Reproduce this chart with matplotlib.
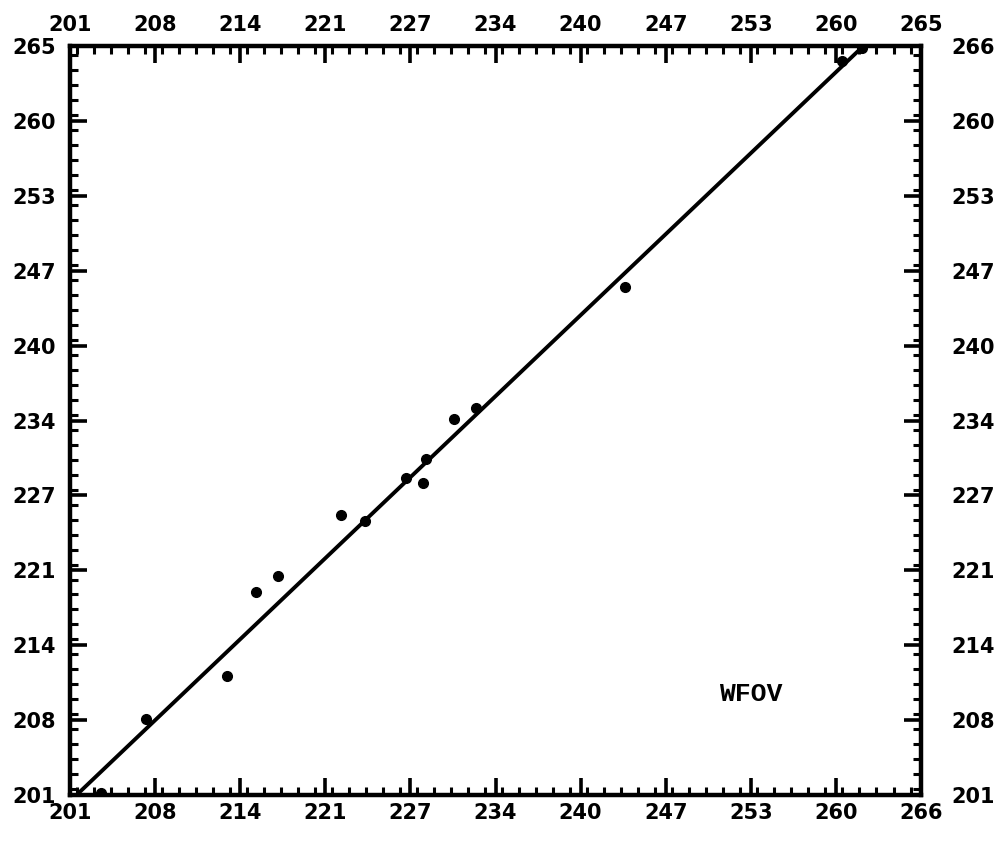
import matplotlib
matplotlib.use("Agg")
import matplotlib.pyplot as plt
from matplotlib.ticker import MultipleLocator

# Observed pairs (WFOV)
x_vals = [203.4, 206.8, 213.0, 215.2, 216.9, 221.7, 223.5, 226.7,
          228.0, 228.2, 230.3, 232.0, 243.4, 260.0, 261.5]
y_vals = [201.2, 207.6, 211.3, 218.6, 220.0, 225.3, 224.8, 228.5,
          228.1, 230.2, 233.6, 234.6, 245.1, 264.7, 265.8]

# Fitted line end points
fit_x = [201.5, 261.6]
fit_y = [201.0, 266.0]

axis_min, axis_max = 201.0, 266.0
major_step = 6.5
minor_step = 1.3

bottom_labels = ["201", "208", "214", "221", "227", "234", "240", "247", "253", "260", "266"]
top_labels = ["201", "208", "214", "221", "227", "234", "240", "247", "253", "260", "265"]
left_labels = ["201", "208", "214", "221", "227", "234", "240", "247", "253", "260", "265"]
right_labels = ["201", "208", "214", "221", "227", "234", "240", "247", "253", "260", "266"]

panel_text = "WFOV"
panel_pos = (253.0, 209.8)

W, H = 1008, 843
fig = plt.figure(figsize=(W / 100, H / 100), dpi=100)
fig.patch.set_facecolor("white")
rect = [70 / W, (H - 795) / H, 851 / W, 749 / H]
ax = fig.add_axes(rect)

ax.plot(fit_x, fit_y, color="black", lw=2.8, solid_capstyle="round", zorder=3)
ax.plot(x_vals, y_vals, "o", color="black", ms=7, zorder=4)

ax.set_xlim(axis_min, axis_max)
ax.set_ylim(axis_min, axis_max)

ticks = [axis_min + major_step * k for k in range(len(bottom_labels))]

label_font = dict(family="DejaVu Sans", weight="bold", size=15)

ax.set_xticks(ticks)
ax.set_xticklabels(bottom_labels, fontdict=label_font)
ax.set_yticks(ticks)
ax.set_yticklabels(left_labels, fontdict=label_font)
ax.xaxis.set_minor_locator(MultipleLocator(minor_step))
ax.yaxis.set_minor_locator(MultipleLocator(minor_step))

for sp in ax.spines.values():
    sp.set_linewidth(3.2)
    sp.set_color("black")

# Top and right labels (no marks of their own)
topax = ax.twiny()
topax.set_xlim(axis_min, axis_max)
topax.set_xticks(ticks)
topax.set_xticklabels(top_labels, fontdict=label_font)
topax.tick_params(axis="x", length=0, pad=8)

rightax = ax.twinx()
rightax.set_ylim(axis_min, axis_max)
rightax.set_yticks(ticks)
rightax.set_yticklabels(right_labels, fontdict=label_font)
rightax.tick_params(axis="y", length=0, pad=22)

for extra in (topax, rightax):
    for sp in extra.spines.values():
        sp.set_visible(False)

# Inward tick marks on all four sides of the main frame
ax.tick_params(which="both", direction="in", top=True, right=True,
               bottom=True, left=True, labeltop=False, labelright=False,
               color="black")
ax.tick_params(which="major", length=12, width=2.6)
ax.tick_params(which="minor", length=6, width=2.2)
ax.tick_params(axis="x", which="major", pad=6)
ax.tick_params(axis="y", which="major", pad=10)

ax.text(panel_pos[0], panel_pos[1], panel_text, ha="center", va="center",
        family="Liberation Mono", weight="bold", size=19, color="black")

fig.savefig("out.png", dpi=100, facecolor="white")
